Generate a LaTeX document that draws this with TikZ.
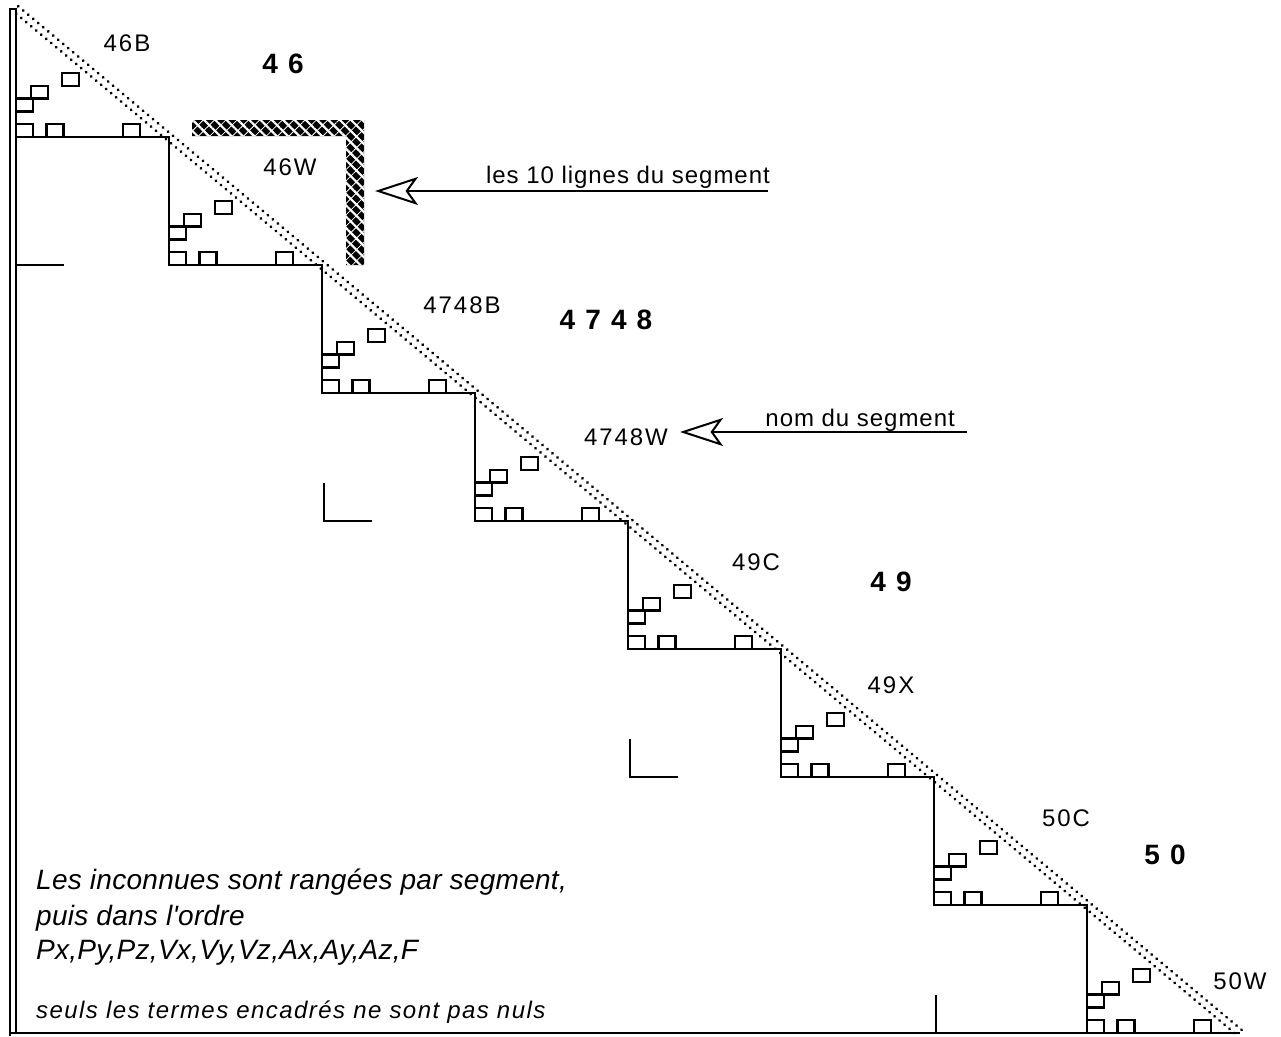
\documentclass[tikz,border=0pt]{standalone}
\usepackage{fontspec}
\setmainfont{Liberation Sans}
\newfontfamily\lblfont[LetterSpace=8]{Liberation Sans}
\newfontfamily\bigfont[LetterSpace=36]{Liberation Sans}
\newfontfamily\notefont[LetterSpace=4]{Liberation Sans}
\newfontfamily\itfont[LetterSpace=1]{Liberation Sans}
\newfontfamily\itsmfont[LetterSpace=6]{Liberation Sans}
\usetikzlibrary{arrows.meta,patterns.meta}
\begin{document}
\begin{tikzpicture}[x=1pt,y=-1pt,
  stair/.style={line width=2.8pt, line join=miter},
  cell/.style={line width=2.3pt},
  frame/.style={line width=2.6pt},
  cornermark/.style={line width=2.8pt},
  dotband/.style={line width=3.2pt, line cap=round, dash pattern=on 0.01pt off 6.5pt},
  lbl/.style={inner sep=0pt, font={\lblfont\fontsize{24}{28}\selectfont}},
  big/.style={inner sep=0pt, font={\bigfont\bfseries\fontsize{28}{32}\selectfont}},
  note/.style={inner sep=0pt, font={\notefont\fontsize{24}{28}\selectfont}},
  itx/.style={inner sep=0pt, font={\itfont\itshape\fontsize{28}{32}\selectfont}},
  itsm/.style={inner sep=0pt, font={\itsmfont\itshape\fontsize{24}{28}\selectfont}},
  conn/.style={line width=2pt, -{Stealth[open, length=43pt, width=28pt, inset=10pt, line width=2pt]}}
]
\useasboundingbox (0,0) rectangle (1281,1036);

% left double frame line and bottom line
\draw[frame] (10,1036) -- (10,9) -- (16,9) -- (16,1033);
\draw[frame] (10,1033) -- (1240,1033);

% staircase
\draw[stair] (16,137) -- (169,137) -- (169,265) -- (322,265) -- (322,393) -- (475,393)
  -- (475,521) -- (628,521) -- (628,649) -- (781,649) -- (781,777) -- (934,777)
  -- (934,905) -- (1087,905) -- (1087,1033);

% non-zero cells in each block
\foreach \i in {0,...,7} {
  \begin{scope}[shift={({16+153*\i},{9+128*\i})}]
    \foreach \r/\c in {5/3,6/1,7/0,9/0,9/2,9/7}
      \draw[cell] ({\c*15.3},{\r*12.8}) rectangle ({(\c+1)*15.3+1.5},{(\r+1)*12.8});
  \end{scope}
}

% dotted diagonal band
\draw[dotband] (18.25,6.32) -- (1242.25,1030.32);
\draw[dotband, dash phase=3.25pt] (13.75,11.68) -- (1237.75,1035.68);

% L-shaped markers
\draw[cornermark] (16,265) -- (64,265);
\draw[cornermark] (324,483) -- (324,521) -- (372,521);
\draw[cornermark] (630,739) -- (630,777) -- (678,777);
\draw[cornermark] (936,995) -- (936,1033);

% hatched bracket (the 10 lines of the segment)
\fill[black] (195,120) -- (364,120) -- (364,265) -- (346,265) -- (346,136) -- (192,136) -- (192,123) -- cycle;
\fill[pattern={Lines[angle=-45,distance=8pt,line width=2.2pt]}, pattern color=white]
  (195,120) -- (364,120) -- (364,265) -- (346,265) -- (346,136) -- (192,136) -- (192,123) -- cycle;
\fill[pattern={Lines[angle=45,distance=8pt,line width=0.8pt]}, pattern color=white]
  (195,120) -- (364,120) -- (364,265) -- (346,265) -- (346,136) -- (192,136) -- (192,123) -- cycle;

% labels
\node[lbl] (l46B) at (127,43) {46B};
\node[big] (l46) at (283,64) {46};
\node[lbl] (l46W) at (290,167) {46W};
\node[lbl] (l4748B) at (462,305) {4748B};
\node[big] (l4748) at (606,320) {4748};
\node[lbl] (l4748W) at (626,437) {4748W};
\node[lbl] (l49C) at (756,562) {49C};
\node[big] (l49) at (891,582) {49};
\node[lbl] (l49X) at (891,685) {49X};
\node[lbl] (l50C) at (1066,818) {50C};
\node[big] (l50) at (1165,855) {50};
\node[lbl] (l50W) at (1240,981) {50W};

% arrows with their notes
\coordinate (a1s) at (768,191);
\coordinate (a1t) at (375,191);
\draw[conn] (a1s) -- (a1t);
\node[note, anchor=base east] (n1) at (770,183) {les 10 lignes du segment};

\coordinate (a2s) at (967,432);
\coordinate (a2t) at (680,432);
\draw[conn] (a2s) -- (a2t);
\node[note, anchor=base east] (n2) at (955,426) {nom du segment};

% explanatory text
\node[itx, anchor=base west] (t1) at (36,889) {Les inconnues sont rangées par segment,};
\node[itx, anchor=base west] (t2) at (36,925) {puis dans l'ordre};
\node[itx, anchor=base west] (t3) at (36,959) {Px,Py,Pz,Vx,Vy,Vz,Ax,Ay,Az,F};
\node[itsm, anchor=base west] (t4) at (36,1018) {seuls les termes encadrés ne sont pas nuls};
\end{tikzpicture}
\end{document}
